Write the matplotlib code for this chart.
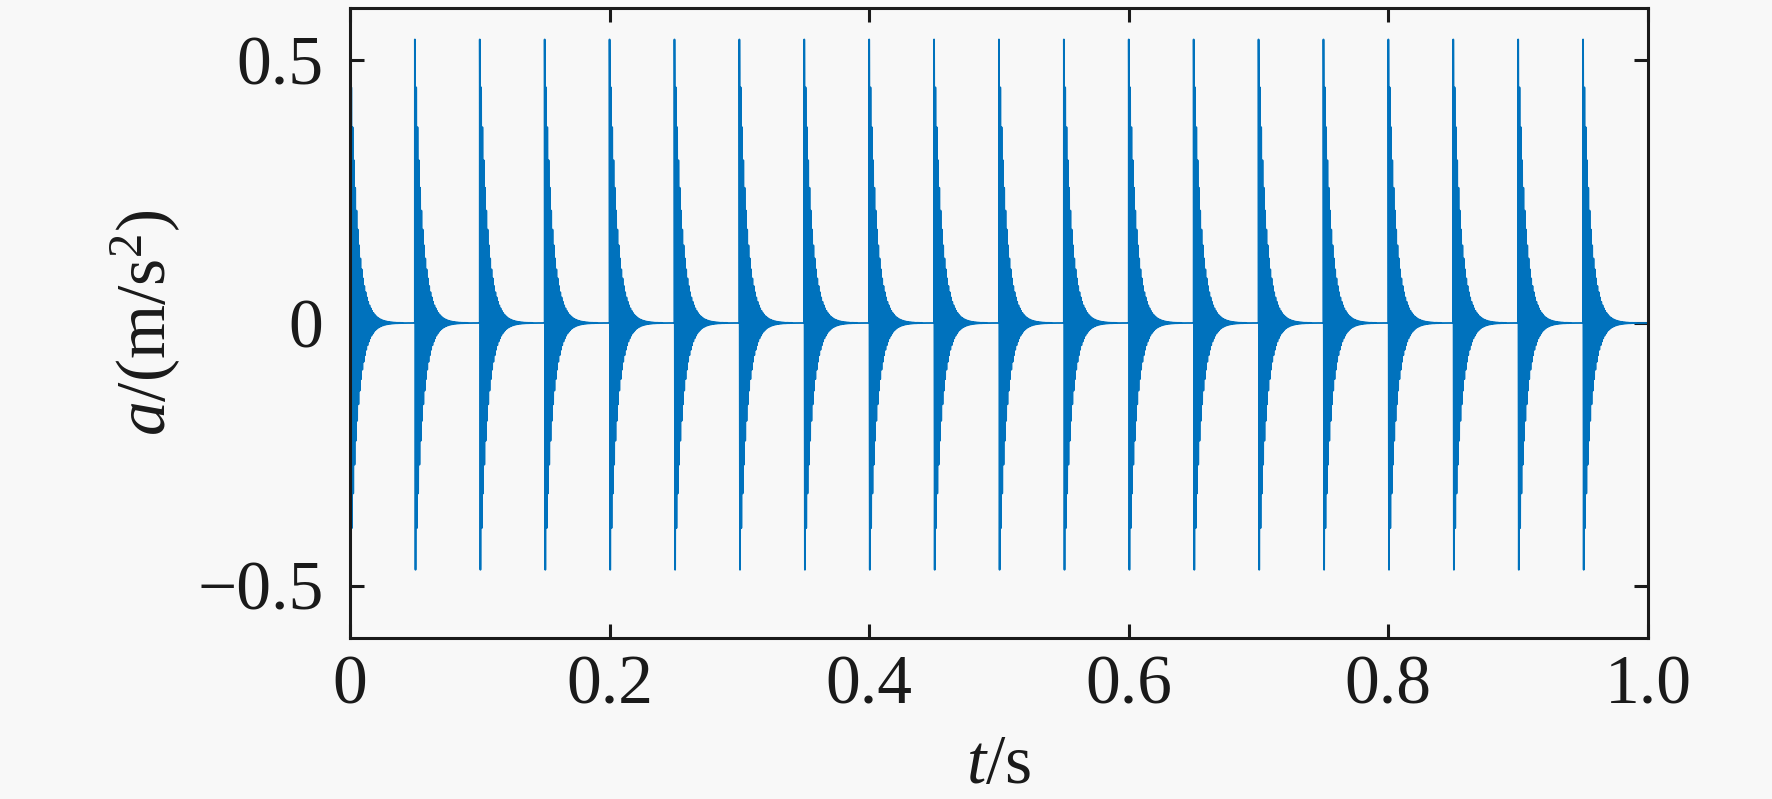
import numpy as np
import matplotlib.pyplot as plt
from matplotlib.ticker import FixedLocator, FixedFormatter

# impact instants (s) and the ringing
impulse_times = [0.00, 0.05, 0.10, 0.15, 0.20, 0.25, 0.30, 0.35, 0.40, 0.45,
                 0.50, 0.55, 0.60, 0.65, 0.70, 0.75, 0.80, 0.85, 0.90, 0.95]
peak_up = [0.54] * 20      # m/s^2, positive peak of each burst
peak_down = [0.47] * 20    # m/s^2, magnitude of negative peak
decay_rate = 185.0         # 1/s, envelope decay
ring_freq = 1000.0         # Hz, ringing frequency
fs = 40000                 # Hz, sample rate
duration = 1.0

xticks = [0, 0.2, 0.4, 0.6, 0.8, 1.0]
xticklabels = ['0', '0.2', '0.4', '0.6', '0.8', '1.0']
yticks = [-0.5, 0, 0.5]
yticklabels = ['\u22120.5', '0', '0.5']

# build the acceleration trace from the bursts
t = np.arange(0, duration, 1.0 / fs)
a = np.zeros_like(t)
# first trough comes half a period after the hit, so lift its scale
trough_gain = np.exp(decay_rate * 0.5 / ring_freq)
for t0, up, dn in zip(impulse_times, peak_up, peak_down):
    m = t >= t0
    dt = t[m] - t0
    osc = np.cos(2 * np.pi * ring_freq * dt)
    amp = np.where(osc >= 0, up, dn * trough_gain)
    a[m] += amp * np.exp(-decay_rate * dt) * osc

plt.rcParams['font.family'] = ['Liberation Serif', 'DejaVu Serif']
plt.rcParams['mathtext.fontset'] = 'custom'
plt.rcParams['mathtext.rm'] = 'Liberation Serif'
plt.rcParams['mathtext.it'] = 'Liberation Serif:italic'

bg = '#f8f8f8'
fig = plt.figure(figsize=(17.72, 7.99), dpi=100, facecolor=bg)
ax = fig.add_axes([0.1975, 0.2015, 0.7325, 0.7885], facecolor=bg)

ax.plot(t, a, color='#0072BD', linewidth=1.3)

ax.set_xlim(0, 1.0)
ax.set_ylim(-0.6, 0.6)
ax.xaxis.set_major_locator(FixedLocator(xticks))
ax.xaxis.set_major_formatter(FixedFormatter(xticklabels))
ax.yaxis.set_major_locator(FixedLocator(yticks))
ax.yaxis.set_major_formatter(FixedFormatter(yticklabels))

ax.tick_params(direction='in', length=10, width=2.2, labelsize=50,
               top=True, right=True, colors='#1a1a1a')
ax.tick_params(axis='x', pad=12)
ax.tick_params(axis='y', pad=19)
for s in ax.spines.values():
    s.set_linewidth(2.2)
    s.set_color('#1a1a1a')

ax.set_xlabel(r'$t$/s', fontsize=50, labelpad=12, color='#1a1a1a')
ax.set_ylabel(r'$a$/(m/s$^2$)', fontsize=50, labelpad=10, color='#1a1a1a')

fig.savefig('out.png', dpi=100, facecolor=bg)
